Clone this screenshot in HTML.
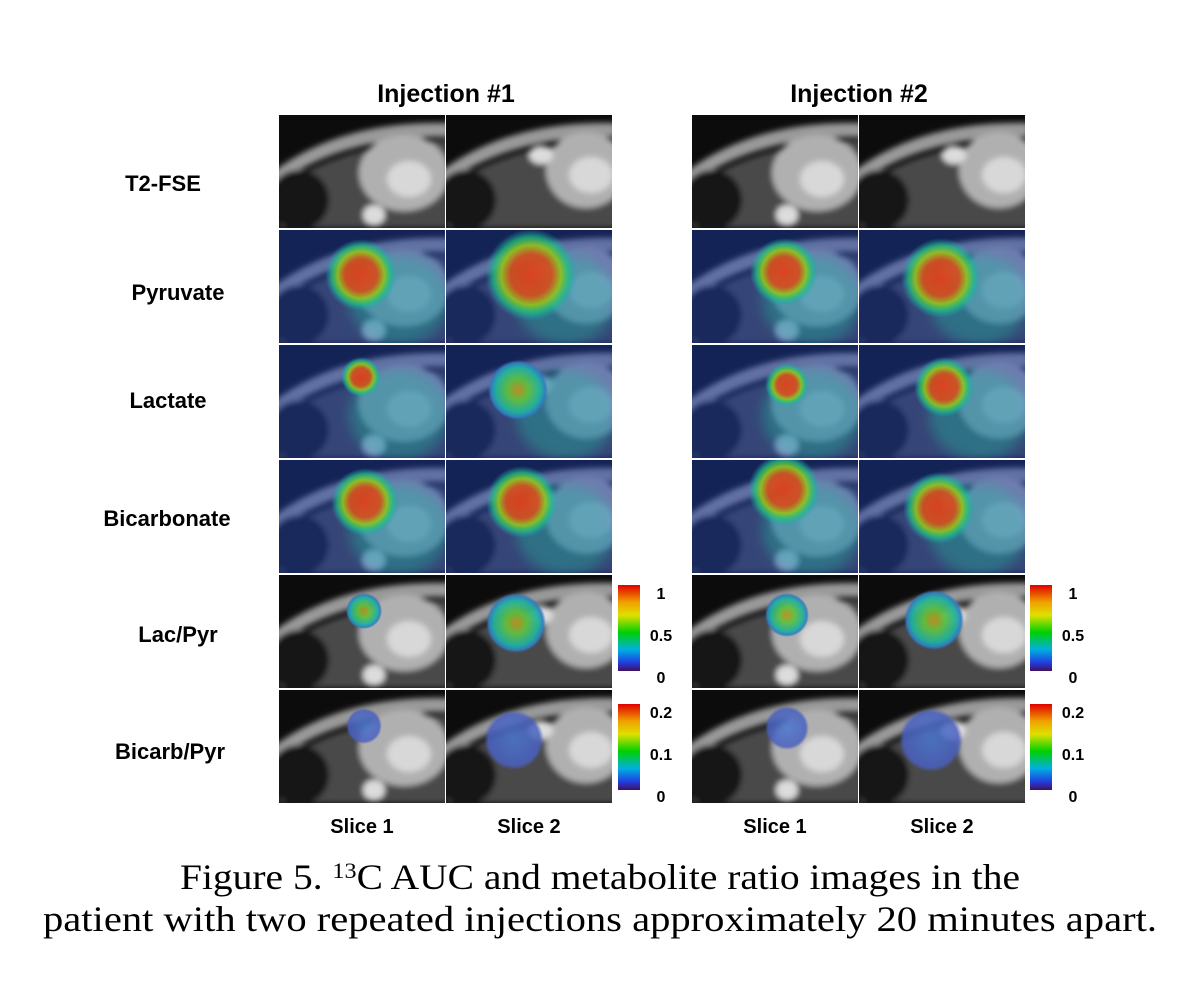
<!DOCTYPE html>
<html><head><meta charset="utf-8"><style>
body{margin:0;background:#fff;width:1200px;height:1006px;overflow:hidden}
svg{display:block}
.lab{font-family:"Liberation Sans",sans-serif;font-weight:bold;fill:#000}
.cap{font-family:"Liberation Serif",serif;font-size:36px;fill:#000}
</style></head><body>
<svg id="fig" width="1200" height="1006" viewBox="0 0 1200 1006">
<defs>
<filter id="bl" x="-20%" y="-20%" width="140%" height="140%"><feGaussianBlur stdDeviation="3"/></filter>
<filter id="bl2" x="-50%" y="-50%" width="200%" height="200%"><feGaussianBlur stdDeviation="6"/></filter>
<radialGradient id="hot"><stop offset="0" stop-color="#e0401a"/><stop offset="0.45" stop-color="#d05020"/><stop offset="0.65" stop-color="#90c020"/><stop offset="0.82" stop-color="#20c080" stop-opacity="0.8"/><stop offset="1" stop-color="#20a0c0" stop-opacity="0"/></radialGradient>
<radialGradient id="grn"><stop offset="0" stop-color="#c09020"/><stop offset="0.35" stop-color="#60c040"/><stop offset="0.75" stop-color="#20b0a0"/><stop offset="0.9" stop-color="#3080c0"/><stop offset="1" stop-color="#3070c0" stop-opacity="0"/></radialGradient>
<radialGradient id="blu"><stop offset="0" stop-color="#4a78d0"/><stop offset="0.85" stop-color="#4a60c0"/><stop offset="1" stop-color="#4a60c0" stop-opacity="0"/></radialGradient>
<linearGradient id="cb" x1="0" y1="0" x2="0" y2="1"><stop offset="0" stop-color="#e00000"/><stop offset="0.2" stop-color="#f0a000"/><stop offset="0.35" stop-color="#e0e000"/><stop offset="0.55" stop-color="#00d000"/><stop offset="0.75" stop-color="#00b0e0"/><stop offset="0.9" stop-color="#2040e0"/><stop offset="1" stop-color="#401060"/></linearGradient>
<clipPath id="pc"><rect x="0" y="0" width="166" height="113"/></clipPath>
</defs>
<text class="lab" x="446" y="102" font-size="25" text-anchor="middle">Injection #1</text>
<text class="lab" x="859" y="102" font-size="25" text-anchor="middle">Injection #2</text>
<g id="panels"></g>
<g id="bars"></g>
<text class="cap" x="600" y="889" text-anchor="middle" textLength="840" lengthAdjust="spacingAndGlyphs">Figure 5. <tspan font-size="22" dy="-11">13</tspan><tspan dy="11">C AUC and metabolite ratio images in the</tspan></text>
<text class="cap" x="600" y="931" text-anchor="middle" textLength="1114" lengthAdjust="spacingAndGlyphs">patient with two repeated injections approximately 20 minutes apart.</text>
</svg>
<script>
const rowLabels=["T2-FSE","Pyruvate","Lactate","Bicarbonate","Lac/Pyr","Bicarb/Pyr"];
const rowLabelX=[163,178,168,167,178,170];
const rowLabelY=[191,300,408,526,642,759];
const colLabels=["Slice 1","Slice 2","Slice 1","Slice 2"];
const cb1Ticks=["1","0.5","0"];
const cb2Ticks=["0.2","0.1","0"];
const NS="http://www.w3.org/2000/svg";
const colX=[279,446,692,859], rowY=[115,230,345,460,575,690];
const blobs=[
 null,
 [[82,45,36,'hot'],[85,45,46,'hot'],[92,42,34,'hot'],[82,48,40,'hot']],
 [[82,32,20,'hot'],[72,45,30,'grn'],[95,40,22,'hot'],[85,42,30,'hot']],
 [[86,42,34,'hot'],[76,42,36,'hot'],[92,30,36,'hot'],[80,48,36,'hot']],
 [[85,36,18,'grn'],[70,48,30,'grn'],[95,40,22,'grn'],[75,45,30,'grn']],
 [[85,36,18,'blu'],[68,50,30,'blu'],[95,38,22,'blu'],[72,50,32,'blu']]];
function el(t,a,p){const e=document.createElementNS(NS,t);for(const k in a)e.setAttribute(k,a[k]);p.appendChild(e);return e;}
const P=document.getElementById('panels');
rowLabels.forEach((lab,r)=>{
 const t=el('text',{class:'lab',x:rowLabelX[r],y:rowLabelY[r],'font-size':22,'text-anchor':'middle'},P);
 
 
 t.textContent=lab;
 colX.forEach((x,c)=>{
  const g=el('g',{transform:`translate(${x},${rowY[r]})`,'clip-path':'url(#pc)'},P);
  
  
  const s2=c%2==1;
  el('rect',{x:0,y:0,width:166,height:113,fill:'#0c0c0c'},g);
  const a=el('g',{filter:'url(#bl)'},g);
  el('path',{d:'M-10 60 Q60 5 170 8 L170 22 Q60 20 -10 75Z',fill:'#9a9a9a'},a);
  el('path',{d:'M0 75 Q60 28 170 25 L170 113 L0 113Z',fill:'#4a4a4a'},a);
  el('ellipse',{cx:20,cy:85,rx:30,ry:30,fill:'#181818'},a);
  el('ellipse',{cx:s2?140:125,cy:s2?55:58,rx:s2?40:45,ry:38,fill:'#b0b0b0'},a);
  el('ellipse',{cx:s2?145:130,cy:s2?60:64,rx:22,ry:18,fill:'#d8d8d8'},a);
  el('ellipse',{cx:95,cy:s2?40:100,rx:s2?12:11,ry:s2?9:10,fill:'#dcdcdc'},a);
  if(r>=1&&r<=3){
   el('rect',{x:0,y:0,width:166,height:113,fill:'#2040b0',opacity:0.45},g);
   el('ellipse',{cx:120,cy:70,rx:50,ry:45,fill:'#20c0a0',opacity:0.35,filter:'url(#bl2)'},g);
  }
  if(blobs[r]){const b=blobs[r][c];el('circle',{cx:b[0],cy:b[1],r:b[2],fill:`url(#${b[3]})`,opacity:b[3]=='blu'?0.85:0.95},g);}
 });
});
colLabels.forEach((l,c)=>{
 const t=el('text',{class:'lab',x:colX[c]+83,y:833,'font-size':20,'text-anchor':'middle'},P);
 
 
 t.textContent=l;
});
const B=document.getElementById('bars');
[[618,585,cb1Ticks],[618,704,cb2Ticks],[1030,585,cb1Ticks],[1030,704,cb2Ticks]].forEach(([x,y,ticks])=>{
 const r=el('rect',{x:x,y:y,width:22,height:86,fill:'url(#cb)'},B);
 
 
 ticks.forEach((tk,i)=>{
  const t=el('text',{class:'lab',x:x+43,y:y+14+i*42,'font-size':16,'text-anchor':'middle'},B);
  
  
  t.textContent=tk;
 });
});
</script>
</body></html>
